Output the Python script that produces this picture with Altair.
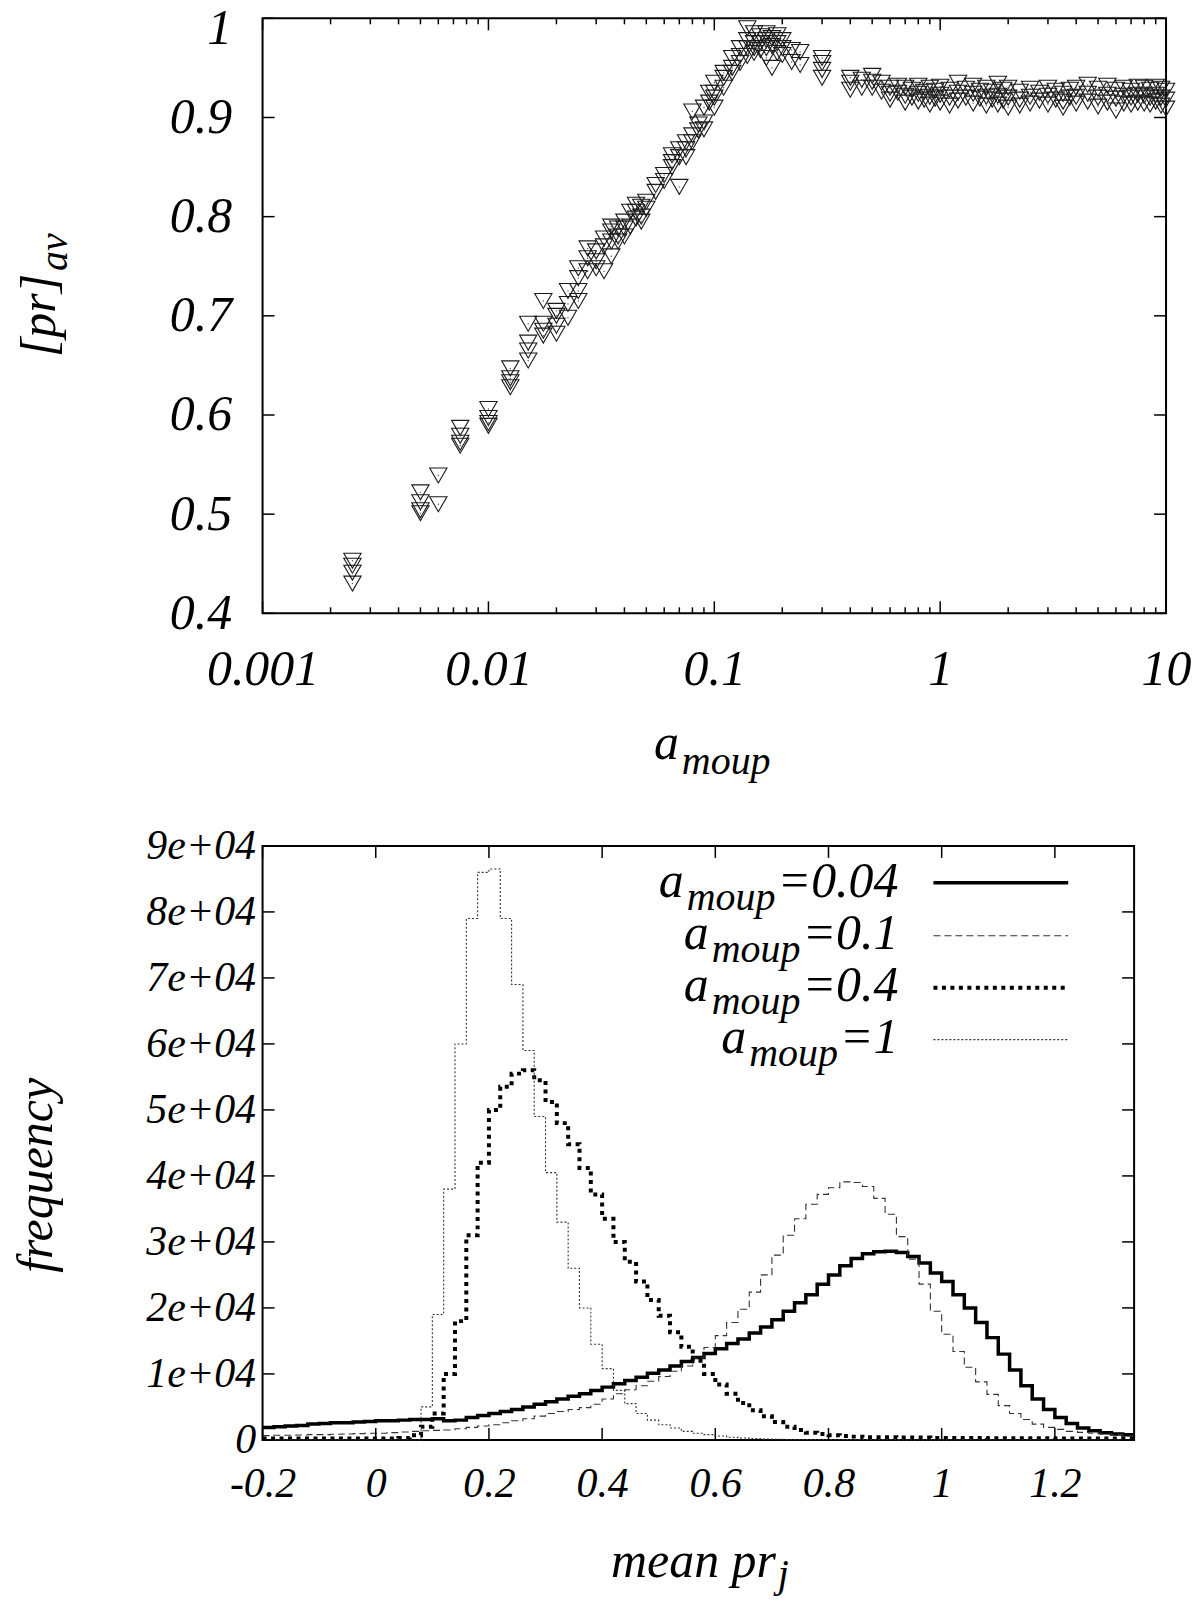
import altair as alt
import pandas as pd

FONT = "Liberation Serif"
FS = 50      # main text size
SUB = 40     # subscript size
FS_B = 42    # bottom panel tick labels (narrower in the original)

# ---------------- top panel data: [pr]_av versus a_moup ----------------
top_a_values = [0.0025, 0.005, 0.006, 0.0075, 0.01, 0.0125, 0.015, 0.0175, 0.02, 0.0225,
                0.025, 0.0275, 0.03, 0.0325, 0.035, 0.0375, 0.04, 0.0425, 0.045, 0.0475,
                0.05, 0.055, 0.06, 0.065, 0.07, 0.075, 0.08, 0.085, 0.09, 0.095,
                0.1, 0.11, 0.12, 0.13, 0.14, 0.15, 0.16, 0.17, 0.18, 0.19,
                0.2, 0.22, 0.24, 0.3, 0.4, 0.45, 0.5, 0.55, 0.6, 0.65,
                0.7, 0.75, 0.8, 0.85, 0.9, 0.95, 1.0, 1.1, 1.2, 1.3,
                1.4, 1.5, 1.6, 1.7, 1.8, 1.9, 2.0, 2.25, 2.5, 2.75,
                3.0, 3.25, 3.5, 3.75, 4.0, 4.5, 5.0, 5.5, 6.0, 6.5,
                7.0, 7.5, 8.0, 8.5, 9.0, 9.5, 10.0]
top_pr_runs = [
    [0.453, 0.448, 0.441, 0.430], [0.522, 0.512, 0.504, 0.501], [0.539, 0.510],
    [0.587, 0.579, 0.572, 0.569], [0.606, 0.597, 0.592, 0.589], [0.647, 0.637, 0.633, 0.628],
    [0.692, 0.673, 0.665, 0.655], [0.715, 0.692, 0.685, 0.680], [0.705, 0.700, 0.690, 0.682],
    [0.725, 0.712, 0.698], [0.748, 0.738, 0.725, 0.715], [0.768, 0.758, 0.745],
    [0.765, 0.755, 0.748], [0.778, 0.770, 0.745], [0.790, 0.785, 0.775, 0.760],
    [0.788, 0.780, 0.775], [0.795, 0.788, 0.780], [0.805, 0.790],
    [0.812, 0.805, 0.798], [0.810, 0.800, 0.795], [0.815, 0.808],
    [0.832, 0.825], [0.842, 0.836], [0.862, 0.855, 0.850],
    [0.868, 0.860, 0.830], [0.875, 0.868, 0.860], [0.906, 0.882, 0.875],
    [0.893, 0.887], [0.910, 0.895, 0.888], [0.925, 0.915],
    [0.935, 0.925, 0.920, 0.910], [0.945, 0.940, 0.930], [0.960, 0.950, 0.945],
    [0.970, 0.962, 0.955], [0.990, 0.978, 0.970, 0.962], [0.985, 0.975, 0.970, 0.965],
    [0.982, 0.975, 0.968], [0.985, 0.978, 0.970, 0.960], [0.980, 0.972, 0.950],
    [0.983, 0.975, 0.965], [0.978, 0.970, 0.963], [0.968, 0.956],
    [0.966, 0.953], [0.960, 0.955, 0.948, 0.940], [0.940, 0.935, 0.928],
    [0.938, 0.930], [0.942, 0.936, 0.930], [0.935, 0.926],
    [0.930, 0.924, 0.918], [0.932, 0.925], [0.930, 0.922, 0.915],
    [0.928, 0.920], [0.932, 0.924, 0.916], [0.926, 0.918],
    [0.930, 0.921, 0.913], [0.927, 0.919], [0.931, 0.923, 0.915],
    [0.928, 0.920, 0.912], [0.935, 0.925, 0.917], [0.929, 0.920],
    [0.932, 0.924, 0.914], [0.927, 0.919], [0.930, 0.921, 0.912],
    [0.926, 0.918], [0.934, 0.922, 0.913], [0.928, 0.917],
    [0.930, 0.920, 0.910], [0.926, 0.918, 0.912], [0.929, 0.921, 0.914],
    [0.925, 0.917], [0.930, 0.922, 0.913], [0.927, 0.918],
    [0.924, 0.916, 0.910], [0.928, 0.920], [0.930, 0.921, 0.914],
    [0.933, 0.924, 0.916], [0.929, 0.920, 0.911], [0.932, 0.923, 0.915],
    [0.928, 0.919, 0.907], [0.930, 0.922, 0.914], [0.927, 0.920, 0.913],
    [0.931, 0.923, 0.915], [0.930, 0.922, 0.914], [0.928, 0.920, 0.913],
    [0.931, 0.923, 0.916], [0.929, 0.920, 0.912], [0.927, 0.918, 0.909],
]
top_xticks_major = [0.001, 0.01, 0.1, 1, 10]
top_xticks_minor = [0.002, 0.003, 0.004, 0.005, 0.006, 0.007, 0.008, 0.009,
                    0.02, 0.03, 0.04, 0.05, 0.06, 0.07, 0.08, 0.09,
                    0.2, 0.3, 0.4, 0.5, 0.6, 0.7, 0.8, 0.9,
                    2, 3, 4, 5, 6, 7, 8, 9]
top_yticks = [0.4, 0.5, 0.6, 0.7, 0.8, 0.9, 1.0]

# ---------------- bottom panel data: histograms of mean pr_j ----------------
bins = [-0.20, -0.18, -0.16, -0.14, -0.12, -0.10, -0.08, -0.06, -0.04, -0.02,
        0.00, 0.02, 0.04, 0.06, 0.08, 0.10, 0.12, 0.14, 0.16, 0.18,
        0.20, 0.22, 0.24, 0.26, 0.28, 0.30, 0.32, 0.34, 0.36, 0.38,
        0.40, 0.42, 0.44, 0.46, 0.48, 0.50, 0.52, 0.54, 0.56, 0.58,
        0.60, 0.62, 0.64, 0.66, 0.68, 0.70, 0.72, 0.74, 0.76, 0.78,
        0.80, 0.82, 0.84, 0.86, 0.88, 0.90, 0.92, 0.94, 0.96, 0.98,
        1.00, 1.02, 1.04, 1.06, 1.08, 1.10, 1.12, 1.14, 1.16, 1.18,
        1.20, 1.22, 1.24, 1.26, 1.28, 1.30, 1.32, 1.34]
freq_a004 = [1900, 2000, 2100, 2200, 2400, 2500, 2600, 2600, 2700, 2800,
             2900, 2900, 3000, 3100, 3100, 3200, 2900, 3000, 3400, 3700,
             4000, 4300, 4600, 5000, 5400, 5800, 6200, 6600, 7000, 7500,
             8000, 8500, 9000, 9500, 10100, 10600, 11200, 11900, 12500, 13100,
             13800, 14600, 15300, 16200, 17100, 18200, 19500, 20800, 22000, 23600,
             25000, 26400, 27500, 28200, 28500, 28600, 28400, 27800, 26800, 25300,
             24000, 22000, 20000, 17800, 15500, 13000, 10600, 8200, 6200, 4600,
             3400, 2500, 1800, 1400, 1100, 900, 800, 800]
freq_a01 = [650, 700, 700, 750, 800, 800, 850, 900, 950, 1000,
            1000, 1100, 1200, 1300, 1400, 1450, 1500, 1700, 1900, 2100,
            2300, 2600, 2900, 3200, 3600, 4000, 4300, 4600, 4900, 5400,
            6200, 7000, 7600, 8200, 8900, 9600, 10400, 11200, 12400, 14000,
            15800, 17800, 19800, 22400, 25000, 28000, 31000, 33500, 35700, 37200,
            38200, 39100, 39000, 38400, 36600, 34200, 30800, 27400, 23600, 19500,
            16000, 13400, 11000, 8800, 6900, 5200, 4000, 3100, 2400, 1900,
            1600, 1300, 1150, 1000, 900, 800, 600, 600]
freq_a04 = [200, 200, 200, 200, 200, 200, 200, 200, 200, 200,
            200, 200, 300, 700, 2000, 4000, 10000, 18000, 31000, 42000,
            50000, 53500, 55500, 56000, 54500, 51200, 48000, 44800, 41200, 37200,
            33500, 30000, 27000, 24000, 21200, 18800, 16300, 14100, 12000, 10000,
            8400, 7000, 5600, 4500, 3600, 2700, 2000, 1500, 1100, 900,
            700, 600, 500, 400, 400, 400, 350, 350, 350, 300,
            300, 300, 300, 300, 250, 250, 250, 250, 250, 250,
            200, 200, 200, 200, 200, 200, 200, 200]
freq_a1 = [0, 0, 0, 0, 0, 0, 0, 0, 0, 0,
           0, 0, 0, 0, 5000, 19000, 38000, 60000, 79000, 86000,
           86500, 79000, 69000, 59000, 49000, 40500, 33000, 26000, 20000, 14500,
           10800, 7500, 5500, 4000, 3000, 2300, 1800, 1300, 1000, 800,
           600, 400, 300, 200, 150, 100, 50, 50, 50, 50,
           50, 50, 50, 50, 50, 50, 0, 0, 0, 0,
           0, 0, 0, 0, 0, 0, 0, 0, 0, 0,
           0, 0, 0, 0, 0, 0, 0, 0]
series_keys = ["a004", "a01", "a04", "a1"]
series_labels = ["0.04", "0.1", "0.4", "1"]
bottom_xticks = [-0.2, 0, 0.2, 0.4, 0.6, 0.8, 1.0, 1.2]
bottom_yticks = [0, 10000, 20000, 30000, 40000, 50000, 60000, 70000, 80000, 90000]

# ---------------- frames ----------------
W1, H1 = 905, 596
W2, H2 = 873, 595
TICK = 12
MINOR = 6

top_df = pd.DataFrame([{"a": a, "pr": v} for a, runs in zip(top_a_values, top_pr_runs) for v in runs])
bottom_df = pd.DataFrame({
    "x": bins * 4,
    "f": freq_a004 + freq_a01 + freq_a04 + freq_a1,
    "s": sum([[k] * len(bins) for k in series_keys], []),
})

base_style = dict(labelFont=FONT, labelFontStyle="italic", labelColor="black",
                  ticks=False, tickSize=0, domain=False, grid=False, title=None,
                  labelOverlap=False)

# one shared axis definition per channel, used by every layer
xs1 = alt.Scale(type="log", domain=[0.001, 10], nice=False)
ys1 = alt.Scale(domain=[0.4, 1.0], nice=False, zero=False)
ax1x = alt.Axis(values=top_xticks_major, format="~g", labelFontSize=FS,
                labelPadding=31, labelFlush=False, **base_style)
ax1y = alt.Axis(values=top_yticks, format="~g", labelFontSize=FS, labelPadding=31,
                labelOffset={"condition": {"test": "datum.value == 1", "value": 10}, "value": 0},
                **base_style)

xs2 = alt.Scale(domain=[-0.2, 1.34], nice=False, zero=False)
ys2 = alt.Scale(domain=[0, 90000], nice=False)
ax2x = alt.Axis(values=bottom_xticks,
                labelExpr="replace(format(datum.value, '~g'), '\u2212', '-')",
                labelFontSize=FS_B, labelPadding=24, labelFlush=False, **base_style)
ax2y = alt.Axis(values=bottom_yticks,
                labelExpr="datum.value == 0 ? '0' : format(datum.value / 10000, 'd') + 'e+04'",
                labelFontSize=FS_B, labelPadding=7, **base_style)


def one(**kw):
    return pd.DataFrame([kw])


def txt(s, x, y, size=FS, align="left", angle=0):
    return alt.Chart(one(t=s)).mark_text(
        font=FONT, fontStyle="italic", fontSize=size, align=align,
        baseline="alphabetic", angle=angle, color="black"
    ).encode(text="t:N", x=alt.value(x), y=alt.value(y))


def xtick_rules(values, scale, axis, length, H):
    df = pd.DataFrame({"v": values})
    base = alt.Chart(df).mark_rule(color="black", strokeWidth=1.5)
    xenc = alt.X("v:Q", scale=scale, axis=axis)
    return [
        base.encode(x=xenc, y=alt.value(H), y2=alt.value(H - length)),
        base.encode(x=xenc, y=alt.value(0), y2=alt.value(length)),
    ]


def ytick_rules(values, scale, axis, length, W):
    df = pd.DataFrame({"v": values})
    base = alt.Chart(df).mark_rule(color="black", strokeWidth=1.5)
    yenc = alt.Y("v:Q", scale=scale, axis=axis)
    return [
        base.encode(y=yenc, x=alt.value(0), x2=alt.value(length)),
        base.encode(y=yenc, x=alt.value(W), x2=alt.value(W - length)),
    ]


# ---------------- top panel ----------------
pts = alt.Chart(top_df).mark_point(
    shape="triangle-down", size=300, filled=False, color="#1a1a1a", strokeWidth=1.1, opacity=1
).encode(
    x=alt.X("a:Q", scale=xs1, axis=ax1x),
    y=alt.Y("pr:Q", scale=ys1, axis=ax1y),
)
dots = alt.Chart(top_df).mark_circle(size=2, color="#555", opacity=1).encode(
    x=alt.X("a:Q", scale=xs1, axis=ax1x), y=alt.Y("pr:Q", scale=ys1, axis=ax1y))

top_layers = [pts, dots]
top_layers += xtick_rules(top_xticks_major, xs1, ax1x, TICK, H1)
top_layers += xtick_rules(top_xticks_minor, xs1, ax1x, MINOR, H1)
top_layers += ytick_rules(top_yticks, ys1, ax1y, TICK, W1)
# axis titles with subscripts
top_layers += [
    txt("[pr]", -208, 256, FS, "right", 270),
    txt("av", -196, 253, SUB, "left", 270),
    txt("a", 392, 742, FS, "left"),
    txt("moup", 420, 757, SUB, "left"),
]
top = alt.layer(*top_layers).properties(width=W1, height=H1)

# ---------------- bottom panel ----------------
styles = {
    "a004": dict(color="black", strokeWidth=3.5),
    "a01": dict(color="#333333", strokeWidth=1.1, strokeDash=[7, 4]),
    "a04": dict(color="black", strokeWidth=4, strokeDash=[4, 4.5]),
    "a1": dict(color="#333333", strokeWidth=1.1, strokeDash=[2, 2]),
}

bottom_layers = []
for key in series_keys:
    bottom_layers.append(
        alt.Chart(bottom_df).transform_filter(alt.datum.s == key)
        .mark_line(interpolate="step-after", **styles[key])
        .encode(x=alt.X("x:Q", scale=xs2, axis=ax2x), y=alt.Y("f:Q", scale=ys2, axis=ax2y))
    )

bottom_layers += xtick_rules(bottom_xticks, xs2, ax2x, TICK, H2)
bottom_layers += ytick_rules(bottom_yticks, ys2, ax2y, TICK, W2)

# legend (key text with subscript, and line samples)
W_CHAR = {"=": 0.675, "0": 0.5, ".": 0.25, "1": 0.5, "4": 0.5}
W_MOUP = 0.722 + 0.5 + 0.5 + 0.5
LEG_R = 637
LEG_BASE = [51, 103, 155, 207]
LEG_LINE = [37, 90, 142, 194]
for key, lab, yb, yl in zip(series_keys, series_labels, LEG_BASE, LEG_LINE):
    eq = "=" + lab
    w_eq = FS * sum(W_CHAR[c] for c in eq) + 2
    w_sub = SUB * W_MOUP + 3
    bottom_layers += [
        txt(eq, LEG_R, yb, FS, "right"),
        txt("moup", LEG_R - w_eq, yb + 13, SUB, "right"),
        txt("a", LEG_R - w_eq - w_sub, yb, FS, "right"),
        alt.Chart(one(k=key)).mark_rule(**styles[key]).encode(
            x=alt.value(672), x2=alt.value(807), y=alt.value(yl)),
    ]

bottom_layers += [
    txt("frequency", -211, 330, FS, "center", 270),
    txt("mean pr", 349, 732, FS, "left"),
    txt("j", 516, 742, SUB, "left"),
]
bottom = alt.layer(*bottom_layers).properties(width=W2, height=H2)

chart = alt.vconcat(top, bottom, spacing=233, bounds="flush").properties(
    padding={"top": -7, "left": 3, "right": 0, "bottom": 0},
    background="white",
).configure_view(stroke="black", strokeWidth=2)

chart.save("out.html", embed_options={"renderer": "svg", "actions": False})
